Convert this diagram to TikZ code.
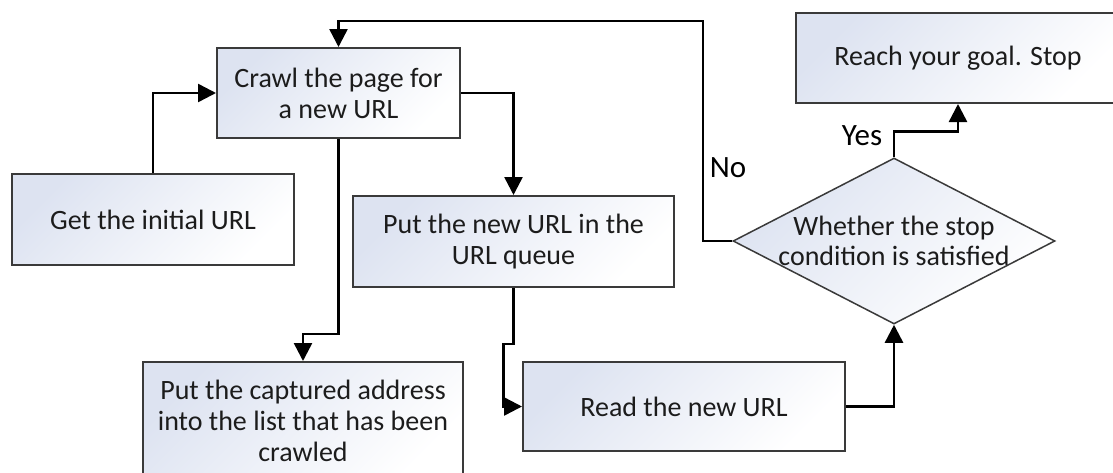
\documentclass[tikz,border=0pt]{standalone}
\usepackage{fontspec}
\setmainfont{Carlito}
\usetikzlibrary{arrows.meta,shapes.geometric}
\definecolor{boxfill}{HTML}{DDE3F1}
\definecolor{boxline}{HTML}{3A3A3A}
\definecolor{txt}{HTML}{1C1C1C}
\tikzset{
  stepbox/.style={draw=boxline, line width=2pt, left color=boxfill, right color=white,
    shading angle=45, inner sep=0pt, align=center, text=txt,
    font=\fontsize{28}{31}\selectfont},
  decision/.style={diamond, draw=boxline, line width=1.5pt, left color=boxfill,
    right color=white, shading angle=45, inner sep=0pt},
  flow/.style={draw=black, line width=2.5pt, -{Triangle[length=18pt,width=18pt]}},
  tag/.style={text=black, font=\fontsize{31}{35}\selectfont, inner sep=0pt}
}
\begin{document}
\begin{tikzpicture}[x=1pt, y=-1pt]
  \useasboundingbox (0,0) rectangle (1113,472);

  % process boxes
  \node[stepbox, minimum width=243pt, minimum height=90pt] (crawl) at (338.5,93)
    {Crawl the page for\\a new URL};
  \node[stepbox, minimum width=282pt, minimum height=91pt] (init) at (153,219.5)
    {Get the initial URL};
  \node[stepbox, minimum width=321pt, minimum height=91pt] (put) at (513.5,241.5)
    {Put the new URL in the\\URL queue};
  \node[stepbox, minimum width=320pt, minimum height=118pt] (capt) at (303,421)
    {Put the captured address\\into the list that has been\\crawled};
  \node[stepbox, minimum width=322pt, minimum height=89pt] (read) at (684,406.5)
    {Read the new URL};
  \node[stepbox, minimum width=324pt, minimum height=90pt] (reach) at (958,58)
    {Reach your goal. Stop};

  % decision
  \node[decision, minimum width=322pt, minimum height=166pt] (cond) at (894,241) {};
  \node[align=center, text=txt, font=\fontsize{28}{30}\selectfont, inner sep=0pt]
    (condtext) at (cond.center) {Whether the stop\\condition is satisfied};

  % bend point of the loop back to the crawler
  \coordinate (loop) at (703,21);

  % connectors
  \draw[flow] (init.north) |- (crawl.west);
  \draw[flow] (crawl.east) -| (put.north);
  \draw[flow] (crawl.south) -- ++(0,195) -| (capt.north);
  \draw[flow] (put.south) -- ++(0,56) -- ++(-10,0) |- (read.west);
  \draw[flow] (read.east) -| (cond.south);
  \draw[flow] (cond.north) -- ++(0,-26) -| (reach.south);
  \draw[flow] (cond.west) -| (loop) -| (crawl.north);

  % branch labels
  \node[tag] (yes) at (862,136) {Yes};
  \node[tag] (no) at (728,168) {No};
\end{tikzpicture}
\end{document}
